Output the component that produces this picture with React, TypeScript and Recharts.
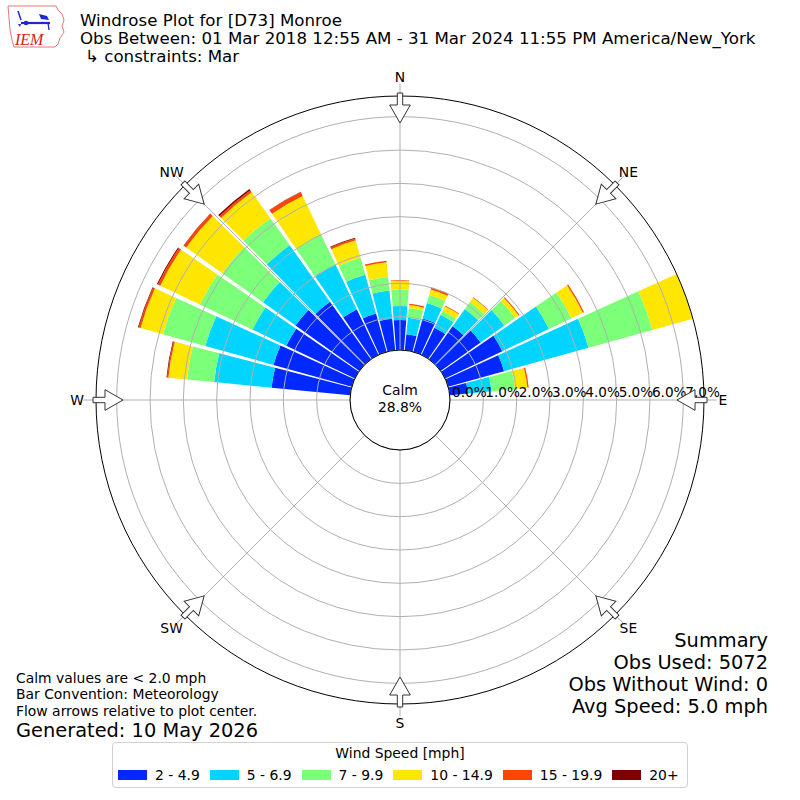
import React from 'react';
import { RadialBarChart, RadialBar, PolarAngleAxis, PolarRadiusAxis, PolarGrid } from 'recharts';

// ---- data (percent of observations) ----
const DIRS = [0, 10, 20, 30, 40, 50, 60, 70, 80, 90, 100, 110, 120, 130, 140, 150, 160, 170,
  180, 190, 200, 210, 220, 230, 240, 250, 260, 270, 280, 290, 300, 310, 320, 330, 340, 350];

const S_2_49 = [0.90, 0.48, 1.04, 0.90, 1.22, 1.47, 1.90, 1.74, 0.55, 0, 0, 0, 0, 0, 0, 0, 0, 0,
  0, 0, 0, 0, 0, 0, 0, 0, 0, 0, 2.37, 2.44, 2.28, 2.35, 2.12, 1.51, 1.19, 0.95];
const S_5_69 = [0.42, 0.50, 0.48, 0.43, 0.63, 0.88, 1.55, 2.63, 0.71, 0, 0, 0, 0, 0, 0, 0, 0, 0,
  0, 0, 0, 0, 0, 0, 0, 0, 0, 0, 1.73, 2.12, 1.12, 1.20, 2.08, 1.49, 1.21, 0.85];
const S_7_99 = [0.50, 0.29, 0.25, 0.13, 0.26, 0.39, 0.75, 1.99, 0.71, 0, 0, 0, 0, 0, 0, 0, 0, 0,
  0, 0, 0, 0, 0, 0, 0, 0, 0, 0, 0.82, 1.32, 1.75, 1.50, 1.00, 1.00, 0.53, 0.41];
const S_10_149 = [0.26, 0.09, 0.17, 0.16, 0.16, 0.13, 0.38, 1.26, 0.37, 0, 0, 0, 0, 0, 0, 0, 0, 0,
  0, 0, 0, 0, 0, 0, 0, 0, 0, 0, 0.56, 0.70, 1.32, 1.33, 0.96, 1.28, 0.54, 0.44];
const S_15_199 = [0.02, 0.04, 0.06, 0.02, 0.02, 0.03, 0.04, 0, 0.04, 0, 0, 0, 0, 0, 0, 0, 0, 0,
  0, 0, 0, 0, 0, 0, 0, 0, 0, 0, 0.04, 0.06, 0.08, 0.09, 0.07, 0.13, 0.06, 0.05];
const S_20P = [0, 0, 0, 0, 0, 0, 0, 0, 0, 0, 0, 0, 0, 0, 0, 0, 0, 0,
  0, 0, 0, 0, 0, 0, 0, 0, 0, 0, 0.02, 0.02, 0.03, 0.01, 0.05, 0.01, 0.02, 0];

const SPEED_BINS = ['2 - 4.9', '5 - 6.9', '7 - 9.9', '10 - 14.9', '15 - 19.9', '20+'];
const COLORS = ['#0028ff', '#00d4ff', '#7cff79', '#ffe600', '#ff4600', '#7f0000'];
const SERIES = [S_2_49, S_5_69, S_7_99, S_10_149, S_15_199, S_20P];
const KEYS = ['s0', 's1', 's2', 's3', 's4', 's5'];

const COMPASS_DEG = [0, 45, 90, 135, 180, 225, 270, 315];
const COMPASS_LABELS = ['N', 'NE', 'E', 'SE', 'S', 'SW', 'W', 'NW'];
const RADIUS_TICKS = [0, 1, 2, 3, 4, 5, 6, 7];
const RMAX = 8;
const CALM = '28.8%';

const TITLE = ['Windrose Plot for [D73] Monroe',
  'Obs Between: 01 Mar 2018 12:55 AM - 31 Mar 2024 11:55 PM America/New_York',
  '\u21b3 constraints: Mar'];
const NOTES = ['Calm values are < 2.0 mph', 'Bar Convention: Meteorology', 'Flow arrows relative to plot center.'];
const GENERATED = 'Generated: 10 May 2026';
const SUMMARY = ['Summary', 'Obs Used: 5072', 'Obs Without Wind: 0', 'Avg Speed: 5.0 mph'];

// ---- layout ----
const CX = 400;
const CY = 400;
const INNER_R = 50;
const PX_PER_PCT = 33.33;
const SCALE_R = INNER_R + RMAX * PX_PER_PCT; // radius reached by RMAX
const FRAME_R = 304; // visible outer circle
const LABEL_R = 323;
const BAR_DEG = 9;
const FONT = '"DejaVu Sans", sans-serif';

const CompassTick = (props: any) => {
  const { payload, index } = props;
  const cx = typeof props.cx === 'number' ? props.cx : CX;
  const cy = typeof props.cy === 'number' ? props.cy : CY;
  const ang = payload.coordinate;
  const rad = (-ang * Math.PI) / 180;
  const lx = cx + LABEL_R * Math.cos(rad);
  const ly = cy + LABEL_R * Math.sin(rad);
  const rot = 90 - ang;
  const d = `M${cx - 2.7},${cy - 307} L${cx + 2.7},${cy - 307} L${cx + 2.7},${cy - 295} L${cx + 10.3},${cy - 295} L${cx},${cy - 277} L${cx - 10.3},${cy - 295} L${cx - 2.7},${cy - 295} Z`;
  return (
    <g>
      <g transform={`rotate(${rot} ${cx} ${cy})`}>
        <path d={d} fill="#fff" stroke="#333" strokeWidth={1} />
      </g>
      <text x={lx} y={ly} textAnchor="middle" dominantBaseline="central" fontSize={13.9} fontFamily={FONT} fill="#000">
        {COMPASS_LABELS[index]}
      </text>
    </g>
  );
};

const RadiusTick = (props: any) => {
  const { x, y, payload } = props;
  return (
    <text x={x + 2} y={y - 3} fontSize={13.6} fontFamily={FONT} fill="#000">
      {Number(payload.value).toFixed(1)}%
    </text>
  );
};

export default function App() {
  const rows = DIRS.map((d, i) => {
    const r: any = { dir: d };
    KEYS.forEach((k, j) => { r[k] = SERIES[j][i]; });
    return r;
  });

  return (
    <div style={{ position: 'absolute', left: 0, top: 0, width: 800, height: 800, background: '#fff', fontFamily: FONT }}>
      <RadialBarChart
        width={800}
        height={800}
        cx={CX}
        cy={CY}
        innerRadius={INNER_R}
        outerRadius={SCALE_R}
        startAngle={90}
        endAngle={-270}
        layout="centric"
        data={rows}
        barSize={BAR_DEG}
        margin={{ top: 0, right: 0, bottom: 0, left: 0 }}
      >
        {KEYS.map((k, i) => (
          <RadialBar key={k} dataKey={k} stackId="a" fill={COLORS[i]} isAnimationActive={false} />
        ))}
        <PolarGrid gridType="circle" stroke="#b0b0b0" strokeWidth={1} fill="none" outerRadius={FRAME_R} zIndex={350} />
        <PolarGrid gridType="circle" polarRadius={[INNER_R, FRAME_R]} radialLines={false} stroke="#000" fill="none" zIndex={360} />
        <PolarRadiusAxis
          type="number"
          domain={[0, RMAX]}
          allowDataOverflow
          angle={0}
          ticks={RADIUS_TICKS}
          tick={<RadiusTick />}
          axisLine={false}
          tickLine={false}
        />
        <PolarAngleAxis
          type="number"
          dataKey="dir"
          domain={[0, 360]}
          ticks={COMPASS_DEG}
          tick={<CompassTick />}
          tickLine={false}
          axisLine={false}
        />
      </RadialBarChart>

      <svg width={800} height={800} style={{ position: 'absolute', left: 0, top: 0, pointerEvents: 'none' }} fontFamily={FONT}>
        {/* IEM logo approximation */}
        <polygon points="8,6 56,6 58,10 62,14 64,20 62,26 64,32 60,38 58,44 55,47 14,47 12,40 10,30 9,18" fill="none" stroke="#e07a7a" strokeWidth={1} />
        <line x1={21} y1={23} x2={50} y2={23} stroke="#1a2ad0" strokeWidth={2.2} />
        <line x1={18} y1={11} x2={21} y2={20} stroke="#1a2ad0" strokeWidth={1.5} />
        <circle cx={26} cy={23} r={2.3} fill="#1a2ad0" />
        <polygon points="39,14 47,16 49,20 41,19" fill="#1a2ad0" />
        <polygon points="18,24 21,24 20,27" fill="#1a2ad0" />
        <line x1={48} y1={23} x2={49} y2={30} stroke="#1a2ad0" strokeWidth={1.3} />
        <text x={15} y={45} fontSize={16} fontStyle="italic" fontFamily='"Liberation Serif", serif' fill="#d42020">IEM</text>

        {TITLE.map((t, i) => (
          <text key={i} x={i === 2 ? 85 : 80} y={25.5 + i * 18.2} fontSize={16.67} fill="#000">{t}</text>
        ))}

        <text x={CX} y={CY - 5} textAnchor="middle" fontSize={13.9} fill="#000">Calm</text>
        <text x={CX} y={CY + 12} textAnchor="middle" fontSize={13.9} fill="#000">{CALM}</text>

        {NOTES.map((t, i) => (
          <text key={i} x={16} y={683 + i * 16.3} fontSize={13.9} fill="#000">{t}</text>
        ))}
        <text x={16} y={737} fontSize={19.4} fill="#000">{GENERATED}</text>

        {SUMMARY.map((t, i) => (
          <text key={i} x={768} y={647 + i * 22} textAnchor="end" fontSize={19.4} fill="#000">{t}</text>
        ))}
      </svg>

      <div style={{ position: 'absolute', left: 112, top: 742, width: 576, height: 46, boxSizing: 'border-box', border: '1px solid #d0d0d0', borderRadius: 4, background: '#fff', fontFamily: FONT }}>
        <div style={{ position: 'absolute', left: 0, right: 0, top: 2, textAlign: 'center', fontSize: 13.9, lineHeight: '16px' }}>Wind Speed [mph]</div>
        <div style={{ position: 'absolute', left: 5, top: 24, display: 'flex', alignItems: 'center', fontSize: 13.9, lineHeight: '16px', whiteSpace: 'nowrap' }}>
          {SPEED_BINS.map((b, i) => (
            <div key={b} style={{ display: 'flex', alignItems: 'center', marginRight: 10 }}>
              <div style={{ width: 29, height: 10, background: COLORS[i], marginRight: 8 }} />
              <span>{b}</span>
            </div>
          ))}
        </div>
      </div>
    </div>
  );
}
